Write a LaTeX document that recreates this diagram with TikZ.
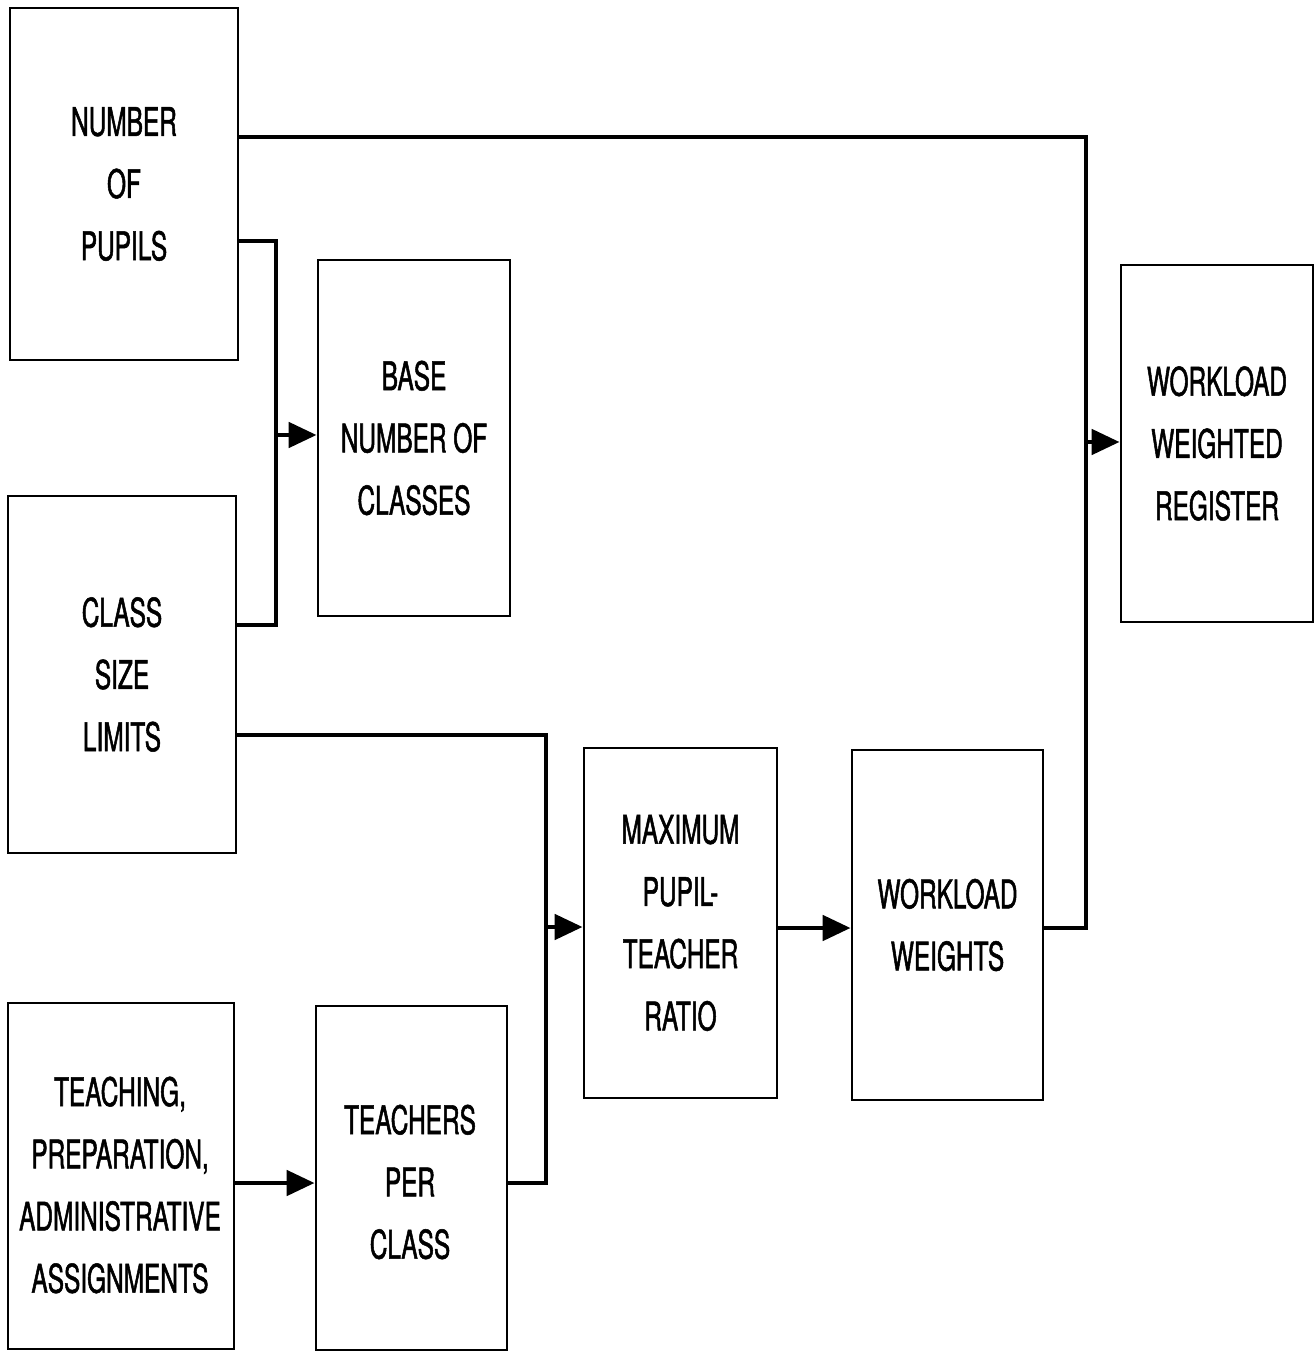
\documentclass[tikz,border=0pt]{standalone}
\usepackage{fontspec}
\setmainfont{TeX Gyre Heros}[FakeStretch=0.62, FakeBold=1.3]
\usetikzlibrary{arrows.meta}
\begin{document}
\begin{tikzpicture}[
  box/.style={draw, line width=0.8pt, inner sep=0pt, align=center,
    font=\fontsize{11.2pt}{17.7pt}\selectfont},
  conn/.style={line width=1.4pt},
  arr/.style={line width=1.4pt, -{Triangle[length=0.28cm,width=0.25cm]}},
  txt/.style={align=center, inner sep=0pt, font=\fontsize{11.2pt}{17.7pt}\selectfont}
]
\useasboundingbox (0,0) rectangle (13.15,-13.52);

\node[box, minimum width=2.28cm, minimum height=3.52cm] (pupils) at (1.24,-1.84) {NUMBER\\OF\\PUPILS};
\node[box, minimum width=1.92cm, minimum height=3.56cm] (base) at (4.14,-4.38) {BASE\\NUMBER OF\\CLASSES};
\node[box, minimum width=2.28cm, minimum height=3.57cm] (class) at (1.22,-6.745) {CLASS\\SIZE\\LIMITS};
\node[box, minimum width=2.26cm, minimum height=3.46cm] (teach) at (1.21,-11.76) {};
\node[txt] (teachT) at (1.20,-11.85) {TEACHING,\\PREPARATION,\\ADMINISTRATIVE\\ASSIGNMENTS};
\node[box, minimum width=1.91cm, minimum height=3.44cm] (teachers) at (4.115,-11.78) {};
\node[txt] (teachersT) at (4.10,-11.82) {TEACHERS\\PER\\CLASS};
\node[box, minimum width=1.93cm, minimum height=3.5cm] (ratio) at (6.805,-9.23) {MAXIMUM\\PUPIL-\\TEACHER\\RATIO};
\node[box, minimum width=1.91cm, minimum height=3.5cm] (weights) at (9.475,-9.25) {WORKLOAD\\WEIGHTS};
\node[box, minimum width=1.92cm, minimum height=3.57cm] (reg) at (12.17,-4.435) {WORKLOAD\\WEIGHTED\\REGISTER};

\coordinate (jR) at (10.86,-9.28);
\coordinate (jRa) at (10.86,-4.42);
\coordinate (jB) at (2.76,-6.25);
\coordinate (jBa) at (2.76,-4.35);
\coordinate (jT) at (5.46,-11.83);
\coordinate (jTa) at (5.46,-9.27);

\draw[conn] (pupils.east |- 0,-1.37) -| (jR) -- (weights.east |- jR);
\draw[arr] (jRa) -- (reg.west |- jRa);
\draw[conn] (pupils.east |- 0,-2.41) -| (jB) -- (class.east |- jB);
\draw[arr] (jBa) -- (base.west |- jBa);
\draw[conn] (class.east |- 0,-7.35) -| (jT) -- (teachers.east |- jT);
\draw[arr] (jTa) -- (ratio.west |- jTa);
\draw[arr] (teach.east |- jT) -- (teachers.west |- jT);
\draw[arr] (ratio.east |- jR) -- (weights.west |- jR);
\end{tikzpicture}
\end{document}
